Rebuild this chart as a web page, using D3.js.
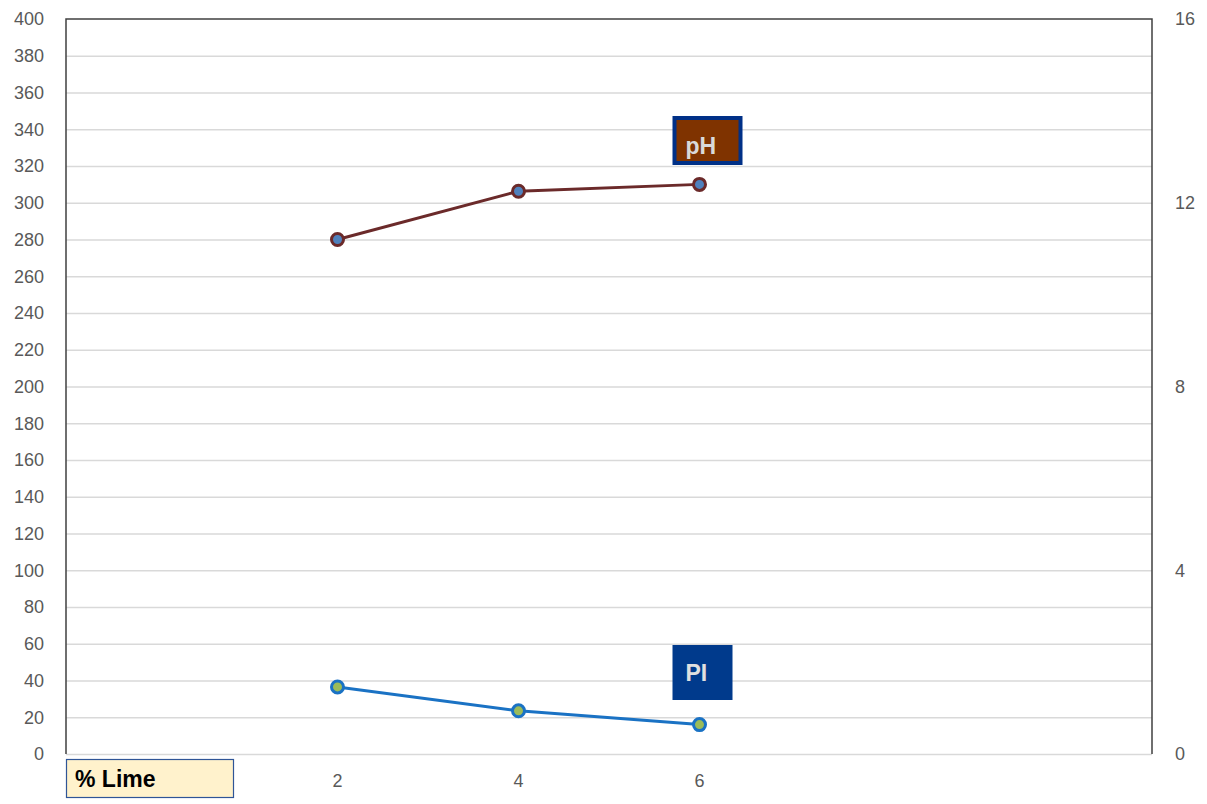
<!DOCTYPE html>
<html lang="en">
    <head>
        <meta charset="utf-8">
        <title>pH and PI vs % Lime</title>
        <script type="text/javascript" src="https://cdn.jsdelivr.net/npm/d3@7"></script>
        <style type="text/css">
        body { margin: 0; background: #fff; }
        .axis path, .axis line { display: none; }
        .axis text {
            font-family: "Liberation Sans", Arial, sans-serif;
            font-size: 18px;
            fill: #595959;
        }
        .grid line { stroke: #d9d9d9; stroke-width: 1.3; }
        .grid path { display: none; }
        .tag {
            font-family: "Liberation Sans", Arial, sans-serif;
            font-weight: bold;
            font-size: 23px;
        }
        </style>
    </head>
    <body>
        <script>
                var w = 1207;
                var h = 804;
                var m = {top: 19, right: 55, bottom: 50, left: 66};

                // category slots along the x axis (blank slots are empty bands)
                var categories = ["", "2", "4", "6", "", ""];
                var limePct = ["2", "4", "6"];
                var pHValues = [11.2, 12.25, 12.4];   // right axis
                var piValues = [36.5, 23.5, 16];      // left axis
                var leftTicks = d3.range(0, 401, 20);
                var rightTicks = [0, 4, 8, 12, 16];

                var xScale = d3.scaleBand()
                  .domain(d3.range(categories.length))
                  .range([m.left, w - m.right]);

                function xPos(label) {
                    var i = categories.indexOf(label);
                    return xScale(i) + xScale.bandwidth() / 2;
                }

                var yLeft = d3.scaleLinear()
                  .domain([0, 400])
                  .range([h - m.bottom, m.top]);

                var yRight = d3.scaleLinear()
                  .domain([0, 16])
                  .range([h - m.bottom, m.top]);

                var svg = d3.select("body")
                  .append("svg")
                  .attr("width", w)
                  .attr("height", h);

                // horizontal gridlines
                svg.append("g")
                  .attr("class", "grid")
                  .attr("transform", "translate(" + m.left + ",0)")
                  .call(d3.axisLeft(yLeft).tickValues(leftTicks.slice(0, -1))
                        .tickSize(-(w - m.left - m.right)).tickFormat(""));

                // frame: left, top, right
                svg.append("path")
                  .attr("d", "M" + m.left + "," + (h - m.bottom) + "V" + m.top +
                             "H" + (w - m.right) + "V" + (h - m.bottom))
                  .attr("fill", "none")
                  .attr("stroke", "#404040")
                  .attr("stroke-width", 1.5);

                svg.append("g")
                  .attr("class", "axis")
                  .attr("transform", "translate(" + (m.left - 4) + ",0)")
                  .call(d3.axisLeft(yLeft).tickValues(leftTicks).tickSize(0).tickPadding(18));

                svg.append("g")
                  .attr("class", "axis")
                  .attr("transform", "translate(" + (w - m.right + 4) + ",0)")
                  .call(d3.axisRight(yRight).tickValues(rightTicks).tickSize(0).tickPadding(19));

                svg.append("g")
                  .attr("class", "axis")
                  .attr("transform", "translate(0," + (h - m.bottom) + ")")
                  .call(d3.axisBottom(xScale).tickSize(0).tickPadding(20)
                        .tickFormat(function (i) { return categories[i]; }));

                // series
                var lineRight = d3.line()
                  .x(function (d, i) { return xPos(limePct[i]); })
                  .y(function (d) { return yRight(d); });
                var lineLeft = d3.line()
                  .x(function (d, i) { return xPos(limePct[i]); })
                  .y(function (d) { return yLeft(d); });

                svg.append("path")
                  .datum(pHValues)
                  .attr("d", lineRight)
                  .attr("fill", "none")
                  .attr("stroke", "#6b2a2a")
                  .attr("stroke-width", 3);

                svg.selectAll(".ph-dot")
                  .data(pHValues)
                  .enter().append("circle")
                  .attr("class", "ph-dot")
                  .attr("cx", function (d, i) { return xPos(limePct[i]); })
                  .attr("cy", function (d) { return yRight(d); })
                  .attr("r", 6)
                  .attr("fill", "#4f81bd")
                  .attr("stroke", "#6b2a2a")
                  .attr("stroke-width", 3);

                svg.append("path")
                  .datum(piValues)
                  .attr("d", lineLeft)
                  .attr("fill", "none")
                  .attr("stroke", "#1a72c4")
                  .attr("stroke-width", 3);

                svg.selectAll(".pi-dot")
                  .data(piValues)
                  .enter().append("circle")
                  .attr("class", "pi-dot")
                  .attr("cx", function (d, i) { return xPos(limePct[i]); })
                  .attr("cy", function (d) { return yLeft(d); })
                  .attr("r", 6)
                  .attr("fill", "#9bbb59")
                  .attr("stroke", "#1a72c4")
                  .attr("stroke-width", 3);

                // series labels
                var phX = xPos("6") - 27;
                svg.append("rect")
                  .attr("x", phX + 2).attr("y", 118)
                  .attr("width", 66).attr("height", 45)
                  .attr("fill", "#7f3300")
                  .attr("stroke", "#003087")
                  .attr("stroke-width", 4);
                svg.append("text")
                  .attr("class", "tag")
                  .attr("x", phX + 13).attr("y", 154)
                  .attr("fill", "#d9d9d9")
                  .text("pH");

                svg.append("rect")
                  .attr("x", phX).attr("y", 645)
                  .attr("width", 60).attr("height", 55)
                  .attr("fill", "#003a8c");
                svg.append("text")
                  .attr("class", "tag")
                  .attr("x", phX + 13).attr("y", 681)
                  .attr("fill", "#e0e0e0")
                  .text("PI");

                // x axis title box
                svg.append("rect")
                  .attr("x", m.left + 0.5).attr("y", 759.5)
                  .attr("width", 167).attr("height", 38)
                  .attr("fill", "#fff2cc")
                  .attr("stroke", "#2f5597")
                  .attr("stroke-width", 1.2);
                svg.append("text")
                  .attr("class", "tag")
                  .attr("x", m.left + 9).attr("y", 787)
                  .attr("fill", "#000")
                  .text("% Lime");

            </script>
    </body>
</html>
